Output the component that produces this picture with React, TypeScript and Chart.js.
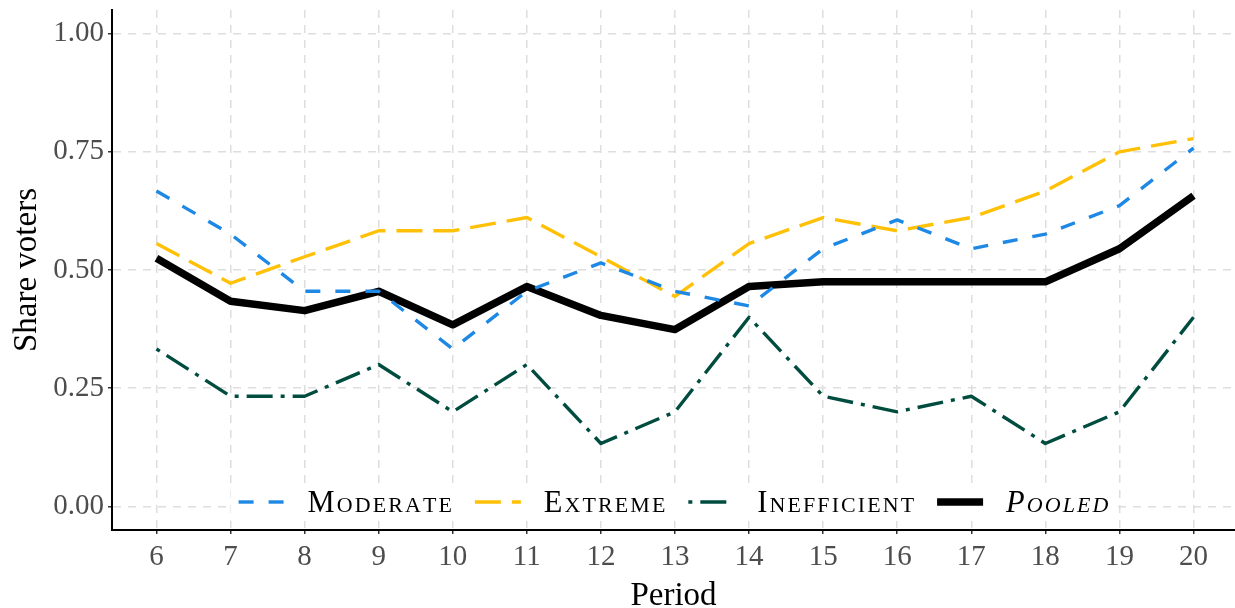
import React, { useEffect, useRef } from "react";
import { Chart, registerables } from "chart.js";

Chart.register(...registerables);

// ---- Data ----
const periods = [6, 7, 8, 9, 10, 11, 12, 13, 14, 15, 16, 17, 18, 19, 20];
const moderate = [0.667, 0.576, 0.455, 0.455, 0.333, 0.455, 0.515, 0.455, 0.424, 0.545, 0.606, 0.545, 0.576, 0.636, 0.758];
const extreme = [0.556, 0.472, 0.528, 0.583, 0.583, 0.611, 0.528, 0.444, 0.556, 0.611, 0.583, 0.611, 0.667, 0.75, 0.778];
const inefficient = [0.333, 0.233, 0.233, 0.3, 0.2, 0.3, 0.133, 0.2, 0.4, 0.233, 0.2, 0.233, 0.133, 0.2, 0.4];
const pooled = [0.525, 0.434, 0.414, 0.455, 0.384, 0.465, 0.404, 0.374, 0.465, 0.475, 0.475, 0.475, 0.475, 0.545, 0.657];
const yTicks = [0, 0.25, 0.5, 0.75, 1];
const seriesNames = ["Moderate", "Extreme", "Inefficient", "Pooled"];
const seriesColors = ["#1E88E5", "#FFC107", "#004D40", "#000000"];

const FONT = "'Liberation Serif', 'Times New Roman', serif";

function smallCaps(ctx: CanvasRenderingContext2D, text: string, x: number, y: number, size: number, italic: boolean, spacing: number, draw: boolean): number {
  const style = italic ? "italic " : "";
  let cx = x;
  ctx.font = `${style}${size}px ${FONT}`;
  const first = text[0];
  if (draw) ctx.fillText(first, cx, y);
  cx += ctx.measureText(first).width + spacing;
  ctx.font = `${style}${size * 0.72}px ${FONT}`;
  for (const ch of text.slice(1).toUpperCase()) {
    if (draw) ctx.fillText(ch, cx, y);
    cx += ctx.measureText(ch).width + spacing;
  }
  return cx - spacing - x;
}

const insideLegend = {
  id: "insideLegend",
  afterDraw(chart: any) {
    const { ctx, chartArea } = chart;
    const items = chart.data.datasets.map((ds: any, i: number) => ({
      label: ds.label,
      color: ds.borderColor,
      dash: ds.borderDash || [],
      width: ds.borderWidth,
      italic: i === 3,
    }));
    const sampleW = 46, gapST = 23, gapItem = 23, size = 30.5, spacing = 2.1;
    ctx.save();
    ctx.textBaseline = "alphabetic";
    ctx.textAlign = "left";
    const widths = items.map((it: any) => smallCaps(ctx, it.label, 0, 0, size, it.italic, spacing, false));
    const total = widths.reduce((a: number, w: number) => a + sampleW + gapST + w, 0) + gapItem * (items.length - 1);
    const cxm = (chartArea.left + chartArea.right) / 2;
    const yMid = chartArea.bottom - 28;
    let x = cxm - total / 2;
    ctx.fillStyle = "#ffffff";
    ctx.fillRect(x - 8, yMid - 18, total + 16, 37);
    items.forEach((it: any, i: number) => {
      ctx.save();
      ctx.strokeStyle = it.color;
      ctx.lineWidth = it.width;
      ctx.lineCap = "butt";
      ctx.setLineDash(it.dash);
      ctx.beginPath();
      ctx.moveTo(x, yMid);
      ctx.lineTo(x + sampleW, yMid);
      ctx.stroke();
      ctx.restore();
      x += sampleW + gapST;
      ctx.fillStyle = "#000000";
      smallCaps(ctx, it.label, x, yMid + 10, size, it.italic, spacing, true);
      x += widths[i] + gapItem;
    });
    ctx.restore();
  },
};

export default function App() {
  const ref = useRef<HTMLCanvasElement | null>(null);
  useEffect(() => {
    document.body.style.margin = "0";
    const canvas = ref.current!;
    const mk = (vals: number[]) => periods.map((p, i) => ({ x: p, y: vals[i] }));
    const common = { pointRadius: 0, tension: 0, borderJoinStyle: "round" as const, borderCapStyle: "butt" as const, fill: false };
    const chart = new Chart(canvas, {
      type: "line",
      data: {
        datasets: [
          { ...common, label: seriesNames[0], data: mk(moderate), borderColor: seriesColors[0], borderWidth: 3.4, borderDash: [15, 15] },
          { ...common, label: seriesNames[1], data: mk(extreme), borderColor: seriesColors[1], borderWidth: 3.4, borderDash: [26, 11] },
          { ...common, label: seriesNames[2], data: mk(inefficient), borderColor: seriesColors[2], borderWidth: 3.4, borderDash: [4, 8, 26, 8] },
          { ...common, label: seriesNames[3], data: mk(pooled), borderColor: seriesColors[3], borderWidth: 7.5 },
        ],
      },
      options: {
        responsive: false,
        animation: false,
        layout: { padding: { top: 10, right: 0, left: 0, bottom: 0 } },
        plugins: { legend: { display: false }, tooltip: { enabled: false } },
        scales: {
          x: {
            type: "linear",
            min: 5.4,
            max: 20.56,
            afterBuildTicks: (s: any) => { s.ticks = periods.map((v) => ({ value: v })); },
            afterFit: (s: any) => { s.height = 78; s.paddingLeft = 0; s.paddingRight = 0; },
            ticks: { color: "#4D4D4D", font: { family: FONT, size: 29 }, padding: 6, maxRotation: 0, autoSkip: false, callback: (v: any) => String(v) },
            grid: { color: "#DEDEDE", lineWidth: 1.5, tickColor: "#333333", tickLength: 4, tickWidth: 1.5, tickBorderDash: [] },
            border: { display: true, color: "#000000", width: 2, dash: [8, 7] },
            title: { display: true, text: "Period", color: "#000000", font: { family: FONT, size: 33, lineHeight: 1 }, padding: { top: 0, bottom: -5 } },
          },
          y: {
            type: "linear",
            min: -0.05,
            max: 1.05,
            afterBuildTicks: (s: any) => { s.ticks = yTicks.map((v) => ({ value: v })); },
            afterFit: (s: any) => { s.width = 112; s.paddingTop = 0; s.paddingBottom = 0; },
            ticks: { color: "#4D4D4D", font: { family: FONT, size: 29 }, padding: 4, callback: (v: any) => Number(v).toFixed(2) },
            grid: { color: "#DEDEDE", lineWidth: 1.5, tickColor: "#333333", tickLength: 4, tickWidth: 1.5, tickBorderDash: [] },
            border: { display: true, color: "#000000", width: 2, dash: [8, 7] },
            title: { display: true, text: "Share voters", color: "#000000", font: { family: FONT, size: 33, lineHeight: 1.2 }, padding: { top: 8, bottom: 4 } },
          },
        },
      },
      plugins: [insideLegend],
    });
    return () => chart.destroy();
  }, []);
  return (
    <div style={{ width: 1235, height: 608 }}>
      <canvas ref={ref} width={1235} height={608} style={{ display: "block", width: 1235, height: 608 }} />
    </div>
  );
}
